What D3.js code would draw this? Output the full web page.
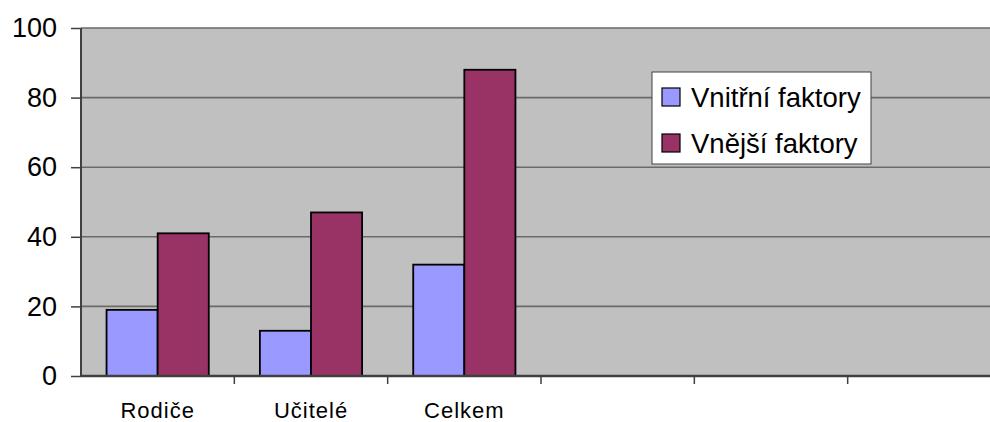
<!DOCTYPE html>
<html>
<head>
<meta charset="utf-8">
<script src="https://cdn.jsdelivr.net/npm/d3@7"></script>
<style>
  html, body { margin: 0; padding: 0; background: #fff; overflow: hidden; }
  svg { display: block; font-family: "Liberation Sans", Arial, sans-serif; }
</style>
</head>
<body>
<svg id="chart" width="990" height="422"></svg>
<script>
// Category slots (the last three are empty in the source sheet)
const categories = ["Rodiče", "Učitelé", "Celkem", "", " ", "  "];
const seriesNames = ["Vnitřní faktory", "Vnější faktory"];
const inner = [19, 13, 32, null, null, null];
const outer = [41, 47, 88, null, null, null];
const yTicks = [0, 20, 40, 60, 80, 100];
const colors = ["#9999ff", "#993366"];

(function draw() {
  const svg = d3.select("#chart");
  const plotLeft = 81, plotRight = 1001, plotTop = 28, plotBottom = 376;

  const x = d3.scaleBand().domain(categories).range([plotLeft, plotRight]).paddingInner(0).paddingOuter(0);
  const slot = x.bandwidth();
  const barW = slot / 3;
  const y = d3.scaleLinear().domain([0, 100]).range([plotBottom, plotTop]);

  // plot area
  svg.append("rect")
    .attr("x", plotLeft).attr("y", plotTop)
    .attr("width", plotRight - plotLeft).attr("height", plotBottom - plotTop)
    .attr("fill", "#c0c0c0");

  // gridlines
  svg.append("g").selectAll("line")
    .data(yTicks.filter(d => d > 0))
    .join("line")
    .attr("x1", plotLeft).attr("x2", plotRight)
    .attr("y1", d => y(d)).attr("y2", d => y(d))
    .attr("stroke", "#6a6a6a").attr("stroke-width", 1.6);

  // bars
  const data = [];
  categories.forEach((c, i) => {
    [inner[i], outer[i]].forEach((v, s) => {
      if (v != null) data.push({ c, s, v });
    });
  });
  svg.append("g").selectAll("rect")
    .data(data)
    .join("rect")
    .attr("x", d => x(d.c) + barW / 2 + d.s * barW)
    .attr("y", d => y(d.v))
    .attr("width", barW)
    .attr("height", d => y(0) - y(d.v))
    .attr("fill", d => colors[d.s])
    .attr("stroke", "#000").attr("stroke-width", 1.8);

  // y axis
  const yAxis = d3.axisLeft(y).tickValues(yTicks).tickSize(10).tickPadding(14);
  const gy = svg.append("g").attr("transform", `translate(${plotLeft},0)`).call(yAxis);
  gy.select(".domain").attr("stroke", "#404040").attr("stroke-width", 2).attr("d", `M0,${plotTop}V${plotBottom}`);
  gy.selectAll(".tick line").attr("stroke", "#404040").attr("stroke-width", 1.5);
  gy.selectAll(".tick text").attr("font-size", 27).attr("fill", "#000")
    .attr("font-family", "Liberation Sans, Arial, sans-serif");

  // x axis
  const xAxis = d3.axisBottom(x).tickSize(0).tickPadding(26);
  const gx = svg.append("g").attr("transform", `translate(0,${plotBottom})`).call(xAxis);
  gx.select(".domain").attr("stroke", "#404040").attr("stroke-width", 2.5).attr("d", `M${plotLeft},0H${plotRight}`);
  gx.selectAll(".tick text").attr("font-size", 22).attr("letter-spacing", 1).attr("fill", "#000")
    .attr("font-family", "Liberation Sans, Arial, sans-serif");
  // category separator ticks
  svg.append("g").selectAll("line")
    .data(categories.slice(1))
    .join("line")
    .attr("x1", d => x(d)).attr("x2", d => x(d))
    .attr("y1", plotBottom).attr("y2", plotBottom + 8)
    .attr("stroke", "#404040").attr("stroke-width", 1.5);

  // legend
  const lg = svg.append("g").attr("transform", "translate(652,72)");
  lg.append("rect").attr("width", 219).attr("height", 92)
    .attr("fill", "#fff").attr("stroke", "#404040").attr("stroke-width", 1);
  seriesNames.forEach((n, i) => {
    const row = lg.append("g").attr("transform", `translate(0,${25 + i * 46})`);
    row.append("rect").attr("x", 10).attr("y", -9).attr("width", 18).attr("height", 18)
      .attr("fill", colors[i]).attr("stroke", "#000").attr("stroke-width", 1.2);
    row.append("text").attr("x", 39).attr("y", 9.5)
      .attr("font-size", 27.5).attr("fill", "#000").text(n);
  });
})();
</script>
</body>
</html>
